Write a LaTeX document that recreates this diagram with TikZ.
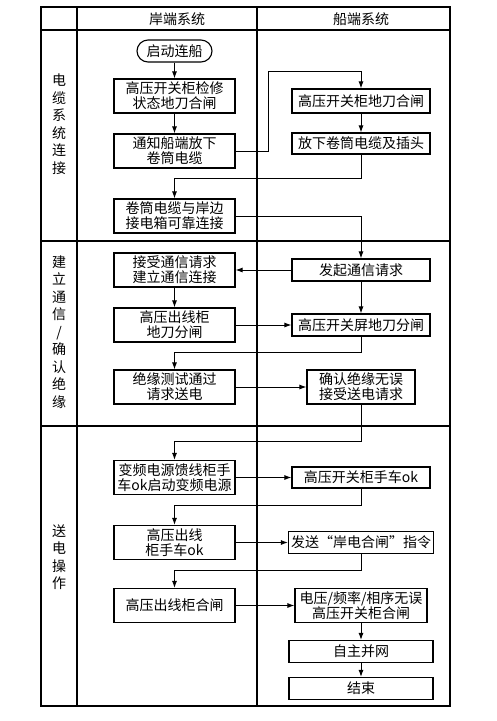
\documentclass[tikz,border=0pt]{standalone}
\usepackage{fontspec}
\setmainfont{Noto Sans CJK SC}
\usetikzlibrary{
  arrows.meta,
  calc,
  positioning,
}
\tikzstyle{arrow} = [
  -{Latex[length=7pt,width=5pt]},
  line width=1pt,
]
\tikzstyle{box} = [
  draw,
  rectangle,
  line width=1.1pt,
  inner sep=0pt,
  align=center,
  minimum width=121,
  minimum height=34,
]
\tikzstyle{lane} = [line width=1.2pt]
\tikzstyle{phase} = [align=center, font=\fontsize{14pt}{17.5pt}\selectfont]

\begin{document}
\begin{tikzpicture}[x=1pt,y=-1pt,font=\fontsize{14pt}{15pt}\selectfont]
        \useasboundingbox (0,0) rectangle (497,721);

        % swimlane frame
        \draw[lane] (41,7) rectangle (450,706);
        \draw[lane] (77,7) -- (77,706);
        \draw[lane] (257,7) -- (257,706);
        \draw[lane] (41,30) -- (450,30);
        \draw[lane] (41,241) -- (450,241);
        \draw[lane] (41,426) -- (450,426);

        \node (shorehead) at (177,19) {岸端系统};
        \node (shiphead) at (361,19) {船端系统};

        \node[phase] (cable) at (59,124) {电\\缆\\系\\统\\连\\接};
        \node[phase] (comm) at (59,332) {建\\立\\通\\信\\/\\确\\认\\绝\\缘};
        \node[phase] (power) at (59,557) {送\\电\\操\\作};

        \coordinate (ship) at (361,0);

        % shore side
        \node[draw,line width=1.1pt,rounded corners=11,minimum width=75,minimum height=22,inner sep=0pt] (start) at (174.5,51) {启动连船};
        \node[box] (hvcheck) at (174.5,96) {高压开关柜检修\\状态地刀合闸};
        \node[box] (notify) at (174.5,151) {通知船端放下\\卷筒电缆};
        \node[box] (reel) at (174.5,216) {卷筒电缆与岸边\\接电箱可靠连接};
        \node[box] (accept) at (174.5,270) {接受通信请求\\建立通信连接};
        \node[box] (hvout) at (174.5,325) {高压出线柜\\地刀分闸};
        \node[box] (insul) at (174.5,387) {绝缘测试通过\\请求送电};
        \node[box] (vfd) at (174.5,477.5) {变频电源馈线柜手\\车ok启动变频电源};
        \node[box] (outcart) at (174.5,542.5) {高压出线\\柜手车ok};
        \node[box] (outclose) at (174.5,605.5) {高压出线柜合闸};

        % ship side
        \node[box,minimum width=138,minimum height=24] (swgnd) at (361,101) {高压开关柜地刀合闸};
        \node[box,minimum width=138,minimum height=21] (drop) at (361,143.5) {放下卷筒电缆及插头};
        \node[box,minimum width=138,minimum height=22] (comreq) at (accept -| ship) {发起通信请求};
        \node[box,minimum width=138,minimum height=22] (hvscreen) at (hvout -| ship) {高压开关屏地刀分闸};
        \node[box,minimum width=108] (confirm) at (insul -| ship) {确认绝缘无误\\接受送电请求};
        \node[box,minimum width=138,minimum height=21] (hvcart) at (vfd -| ship) {高压开关柜手车ok};
        \node[box,minimum width=145,minimum height=22] (sendcmd) at (outcart -| ship) {发送“岸电合闸”指令};
        \node[box,minimum width=132] (check) at (outclose -| ship) {电压/频率/相序无误\\高压开关柜合闸};
        \node[box,minimum width=144,minimum height=22] (grid) at (361,651.5) {自主并网};
        \node[box,minimum width=144,minimum height=22] (finish) at (361,688.5) {结束};

        \coordinate (bend) at (268,71);

        \draw[arrow] (start.south) -- (hvcheck.north);
        \draw[arrow] (hvcheck.south) -- (notify.north);
        \draw[arrow] (notify.east) -| (bend) -| (swgnd.north);
        \draw[arrow] (swgnd.south) -- (drop.north);
        \draw[arrow] (drop.south) -- ++(0,24) -| (reel.north);
        \draw[arrow] (reel.east) -| (comreq.north);
        \draw[arrow] (comreq.west) -- (accept.east);
        \draw[arrow] (accept.south) -- (hvout.north);
        \draw[arrow] (comreq.south) -- (hvscreen.north);
        \draw[arrow] (hvout.east) -- (hvscreen.west);
        \draw[arrow] (hvscreen.south) -- ++(0,16) -| (insul.north);
        \draw[arrow] (insul.east) -- (confirm.west);
        \draw[arrow] (confirm.south) -- ++(0,37) -| (vfd.north);
        \draw[arrow] (vfd.east) -- (hvcart.west);
        \draw[arrow] (hvcart.south) -- ++(0,17) -| (outcart.north);
        \draw[arrow] (outcart.east) -- (sendcmd.west);
        \draw[arrow] (sendcmd.south) -- ++(0,16) -| (outclose.north);
        \draw[arrow] (outclose.east) -- (check.west);
        \draw[arrow] (check.south) -- (grid.north);
        \draw[arrow] (grid.south) -- (finish.north);

\end{tikzpicture}
\end{document}
